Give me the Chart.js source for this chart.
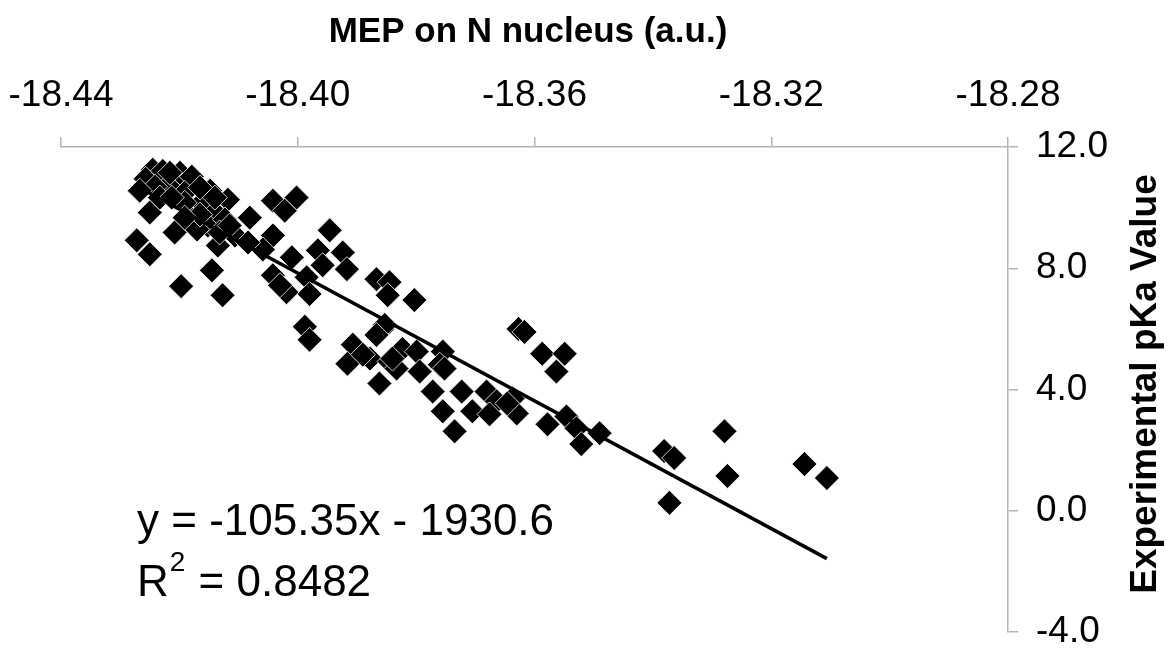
<!DOCTYPE html>
<html>
<head>
<meta charset="utf-8">
<script src="https://cdn.jsdelivr.net/npm/chart.js@4"></script>
<style>
  html, body { margin: 0; padding: 0; background: #fff; }
  #wrap { width: 1167px; height: 648px; position: relative; }
</style>
</head>
<body>
<div id="wrap"><canvas id="c" width="1167" height="648"></canvas></div>
<script>
// ---- data ----
const mepValues = [
  -18.4245, -18.4257, -18.4228, -18.4199, -18.4179, -18.4148, -18.4219, -18.4241, -18.4191, -18.4162,
  -18.4140, -18.4118, -18.4179, -18.4152, -18.4123, -18.4267, -18.4250, -18.4208, -18.4272, -18.4250,
  -18.4170, -18.4135, -18.4106, -18.4197, -18.4145, -18.4127, -18.4216, -18.4165, -18.4233, -18.4132,
  -18.4042, -18.4002, -18.4022, -18.4081, -18.3946, -18.4115, -18.4042, -18.4059, -18.4010, -18.3966,
  -18.3958, -18.3924, -18.4042, -18.4019, -18.3985, -18.3980, -18.4084, -18.4030, -18.3988, -18.3980,
  -18.3917, -18.3867, -18.3845, -18.3848, -18.3803, -18.3857, -18.3907, -18.3878, -18.3823, -18.3799,
  -18.3755, -18.3760, -18.3845, -18.3916, -18.3890, -18.3862, -18.3833, -18.3794, -18.3752, -18.3772,
  -18.3723, -18.3755, -18.3735, -18.3705, -18.3681, -18.3664, -18.3676, -18.3637, -18.3630, -18.3853,
  -18.3867, -18.3840, -18.3627, -18.3617, -18.3587, -18.3549, -18.3563, -18.3646, -18.3578, -18.3546,
  -18.3529, -18.3521, -18.3490, -18.3381, -18.3364, -18.3279, -18.3274, -18.3372, -18.3144, -18.3106,
  -18.4191, -18.4165, -18.4140, -18.4191, -18.4213
];
const pkaValues = [
  11.25, 10.95, 11.21, 11.15, 11.02, 10.56, 10.72, 10.69, 10.49, 10.16,
  9.84, 10.26, 9.61, 9.41, 9.61, 10.56, 9.84, 9.18, 8.92, 8.46,
  9.28, 8.75, 9.08, 7.41, 7.93, 7.11, 11.15, 10.66, 10.33, 9.18,
  10.23, 10.33, 9.90, 9.67, 9.25, 9.41, 9.08, 8.62, 8.36, 8.59,
  8.10, 8.52, 7.77, 7.21, 7.70, 7.15, 8.85, 7.44, 6.07, 5.64,
  7.97, 7.64, 7.54, 7.11, 6.95, 6.00, 5.48, 5.02, 5.34, 5.25,
  5.25, 4.82, 4.92, 4.85, 5.15, 4.20, 4.69, 4.59, 4.69, 3.93,
  3.93, 3.28, 2.62, 3.28, 3.93, 3.61, 3.18, 3.70, 3.21, 6.13,
  5.80, 5.02, 6.00, 5.90, 5.18, 5.18, 4.59, 3.54, 2.85, 3.11,
  2.72, 2.20, 2.56, 1.97, 1.74, 2.62, 1.15, 0.26, 1.54, 1.08,
  10.16, 9.77, 10.33, 9.67, 10.33
];
const trendSlope = -105.35;
const trendIntercept = -1930.6;
const xTickValues = [-18.44, -18.40, -18.36, -18.32, -18.28];
const yTickValues = [-4, 0, 4, 8, 12];
const xTitle = 'MEP on N nucleus (a.u.)';
const yTitle = 'Experimental pKa Value';
const eqText = 'y = -105.35x - 1930.6';
const r2Value = '0.8482';

// ---- build datasets ----
const points = mepValues.map((x, i) => ({ x: x, y: pkaValues[i] }));
const xMin = Math.min(...mepValues), xMax = Math.max(...mepValues);
const trend = [xMin, xMax].map(x => ({ x: x, y: trendSlope * x + trendIntercept }));

const FONT = '"Liberation Sans", Arial, Helvetica, sans-serif';
const AXIS_GRAY = '#b4b4b4';

function zeroPad(s) {
  s.paddingLeft = 0; s.paddingRight = 0; s.paddingTop = 0; s.paddingBottom = 0;
}

const textPlugin = {
  id: 'extraText',
  afterDraw(chart) {
    const ctx = chart.ctx;
    // x axis title
    ctx.save();
    ctx.fillStyle = '#000';
    ctx.font = 'bold 35px ' + FONT;
    ctx.textAlign = 'center';
    ctx.textBaseline = 'middle';
    ctx.fillText(xTitle, 528, 32);
    ctx.restore();

    // y axis title, reading bottom to top
    ctx.save();
    ctx.fillStyle = '#000';
    ctx.font = 'bold 37px ' + FONT;
    ctx.translate(1146, 384);
    ctx.rotate(-Math.PI / 2);
    ctx.textAlign = 'center';
    ctx.textBaseline = 'middle';
    ctx.fillText(yTitle, 0, 0);
    ctx.restore();

    // trendline equation and R squared
    ctx.save();
    ctx.fillStyle = '#000';
    ctx.textAlign = 'left';
    ctx.textBaseline = 'alphabetic';
    ctx.font = '44px ' + FONT;
    const left = 137;
    ctx.fillText(eqText, left, 535);
    ctx.fillText('R', left, 596);
    const rW = ctx.measureText('R').width;
    ctx.font = '28px ' + FONT;
    ctx.fillText('2', left + rW + 1, 571);
    const sW = ctx.measureText('2').width;
    ctx.font = '44px ' + FONT;
    ctx.fillText(' = ' + r2Value, left + rW + sW + 2, 596);
    ctx.restore();
  }
};

new Chart(document.getElementById('c'), {
  type: 'scatter',
  data: {
    datasets: [
      {
        type: 'line',
        data: trend,
        borderColor: '#000',
        borderWidth: 3.5,
        pointRadius: 0,
        fill: false,
        order: 0
      },
      {
        data: points,
        pointStyle: 'rectRot',
        pointRadius: 12.5,
        pointHoverRadius: 12.5,
        backgroundColor: '#000',
        borderColor: '#fff',
        borderWidth: 0.8,
        order: 1
      }
    ]
  },
  options: {
    responsive: false,
    animation: false,
    events: [],
    layout: { padding: { left: 61, right: 0, top: 0, bottom: 16 } },
    plugins: {
      legend: { display: false },
      tooltip: { enabled: false },
      title: { display: false }
    },
    scales: {
      x: {
        type: 'linear',
        position: 'top',
        min: -18.44,
        max: -18.28,
        afterBuildTicks: s => { s.ticks = xTickValues.map(v => ({ value: v })); },
        afterFit: s => { s.height = 147; zeroPad(s); },
        ticks: {
          color: '#000',
          font: { family: FONT, size: 37 },
          padding: 19,
          maxRotation: 0,
          callback: v => Number(v).toFixed(2)
        },
        grid: {
          display: true,
          drawOnChartArea: false,
          drawTicks: true,
          tickLength: 10,
          color: AXIS_GRAY,
          lineWidth: 1.5
        },
        border: { display: true, color: AXIS_GRAY, width: 1.5 },
        title: { display: false }
      },
      y: {
        type: 'linear',
        position: 'right',
        min: -4,
        max: 12,
        afterBuildTicks: s => { s.ticks = yTickValues.map(v => ({ value: v })); },
        afterFit: s => { s.width = 159; zeroPad(s); },
        ticks: {
          color: '#000',
          font: { family: FONT, size: 37 },
          padding: 18,
          callback: v => Number(v).toFixed(1)
        },
        grid: {
          display: true,
          drawOnChartArea: false,
          drawTicks: true,
          tickLength: 10,
          color: AXIS_GRAY,
          lineWidth: 1.5
        },
        border: { display: true, color: AXIS_GRAY, width: 1.5 }
      }
    }
  },
  plugins: [textPlugin]
});
</script>
</body>
</html>
